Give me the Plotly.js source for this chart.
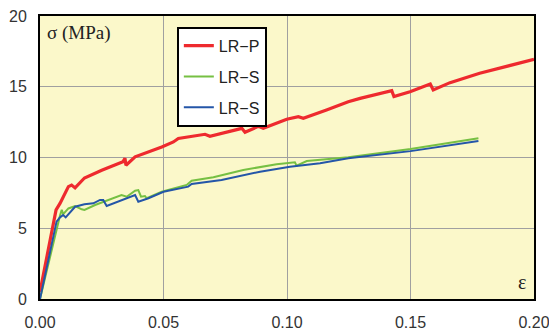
<!DOCTYPE html>
<html>
<head>
<meta charset="utf-8">
<script src="https://cdn.plot.ly/plotly-3.0.1.min.js"></script>
<style>html,body{margin:0;padding:0;background:#fff;}#chart{width:549px;height:336px;}</style>
</head>
<body>
<div id="chart"></div>
<script>
// LR-P (red)
var lrpStrain = [0, 0.0045, 0.0065, 0.0081, 0.0098, 0.0115, 0.0128, 0.0142, 0.018, 0.025, 0.0336, 0.0344, 0.0348, 0.0385, 0.0493, 0.054, 0.056, 0.0668, 0.0688, 0.077, 0.0817, 0.083, 0.0884, 0.0904, 0.0999, 0.1046, 0.1066, 0.116, 0.1248, 0.1296, 0.1383, 0.1424, 0.1433, 0.1498, 0.158, 0.1592, 0.166, 0.178, 0.2];
var lrpStress = [0.5, 4.5, 6.3, 6.76, 7.3, 7.94, 8.05, 7.85, 8.55, 9.1, 9.7, 9.95, 9.45, 10.05, 10.75, 11.1, 11.35, 11.64, 11.5, 11.87, 12.06, 11.78, 12.2, 12.06, 12.7, 12.88, 12.77, 13.36, 13.94, 14.18, 14.58, 14.72, 14.3, 14.65, 15.19, 14.77, 15.29, 15.95, 16.94];
// LR-S (green)
var lrs1Strain = [0, 0.004, 0.0081, 0.0088, 0.0094, 0.0115, 0.0142, 0.0169, 0.018, 0.0223, 0.029, 0.033, 0.0351, 0.0385, 0.0398, 0.0409, 0.0425, 0.0432, 0.0493, 0.0547, 0.0594, 0.0614, 0.0702, 0.0823, 0.0958, 0.1032, 0.1039, 0.108, 0.1248, 0.15, 0.1775];
var lrs1Stress = [0, 3.0, 5.9, 6.3, 6.0, 6.4, 6.57, 6.34, 6.29, 6.64, 7.1, 7.35, 7.23, 7.65, 7.7, 7.23, 7.28, 7.12, 7.58, 7.82, 8.06, 8.36, 8.6, 9.12, 9.52, 9.66, 9.42, 9.75, 10.01, 10.6, 11.36];
// LR-S (blue)
var lrs2Strain = [0, 0.0067, 0.0081, 0.0094, 0.0104, 0.0115, 0.0142, 0.018, 0.0216, 0.0243, 0.0256, 0.027, 0.0317, 0.0385, 0.0398, 0.0439, 0.05, 0.0547, 0.06, 0.0614, 0.0735, 0.0891, 0.1012, 0.1134, 0.1248, 0.15, 0.1775];
var lrs2Stress = [0, 5.47, 5.77, 5.94, 5.77, 6.0, 6.52, 6.69, 6.76, 7.0, 7.0, 6.57, 6.88, 7.35, 6.88, 7.12, 7.58, 7.75, 7.94, 8.13, 8.41, 9.0, 9.35, 9.59, 9.94, 10.45, 11.17];

var seriesNames = ['LR\u2212P', 'LR\u2212S', 'LR\u2212S'];
var xTickVals = [0, 0.05, 0.10, 0.15, 0.20];
var xTickText = ['0.00', '0.05', '0.10', '0.15', '0.20'];
var yTickVals = [0, 5, 10, 15, 20];

var traces = [
  {x: lrpStrain, y: lrpStress, name: seriesNames[0], legendgroup: 'a', mode: 'lines', line: {color: '#EE2A2E', width: 3.2}},
  {x: lrs1Strain, y: lrs1Stress, name: seriesNames[1], legendgroup: 'b', mode: 'lines', line: {color: '#76C043', width: 2}},
  {x: lrs2Strain, y: lrs2Stress, name: seriesNames[2], legendgroup: 'c', mode: 'lines', line: {color: '#2456A8', width: 2}}
];

var tickFont = {family: 'Liberation Sans, Arial, sans-serif', size: 16, color: '#333'};
var layout = {
  width: 549, height: 336,
  margin: {l: 40, r: 15, t: 16, b: 37},
  paper_bgcolor: '#ffffff',
  plot_bgcolor: '#FBF8CA',
  showlegend: true,
  legend: {
    x: 0.277, y: 0.962, xanchor: 'left', yanchor: 'top',
    bgcolor: '#ffffff', bordercolor: '#000000', borderwidth: 2,
    font: {family: 'Liberation Sans, Arial, sans-serif', size: 16, color: '#222'},
    tracegroupgap: 7
  },
  xaxis: {
    range: [0, 0.2], tickvals: xTickVals, ticktext: xTickText,
    showgrid: true, gridcolor: '#A0A0A0', gridwidth: 1,
    zeroline: false, showline: true, linecolor: '#000', linewidth: 2, mirror: true,
    ticks: '', tickfont: tickFont, ticklabelstandoff: 8, ticklabeloverflow: 'allow'
  },
  yaxis: {
    range: [0, 20], tickvals: yTickVals,
    showgrid: true, gridcolor: '#A0A0A0', gridwidth: 1,
    zeroline: false, showline: true, linecolor: '#000', linewidth: 2, mirror: true,
    ticks: '', tickfont: tickFont, ticklabelstandoff: 8, ticklabeloverflow: 'allow'
  },
  annotations: [
    {xref: 'paper', yref: 'paper', x: 0.01, y: 0.94, xanchor: 'left', yanchor: 'middle', showarrow: false,
     text: '\u03c3 (MPa)', font: {family: 'Liberation Serif, Times New Roman, serif', size: 19, color: '#222'}},
    {xref: 'paper', yref: 'paper', x: 0.975, y: 0.06, xanchor: 'center', yanchor: 'middle', showarrow: false,
     text: '\u03b5', font: {family: 'Liberation Serif, Times New Roman, serif', size: 20, color: '#222'}}
  ]
};

Plotly.newPlot('chart', traces, layout, {displayModeBar: false, staticPlot: true});
</script>
</body>
</html>
